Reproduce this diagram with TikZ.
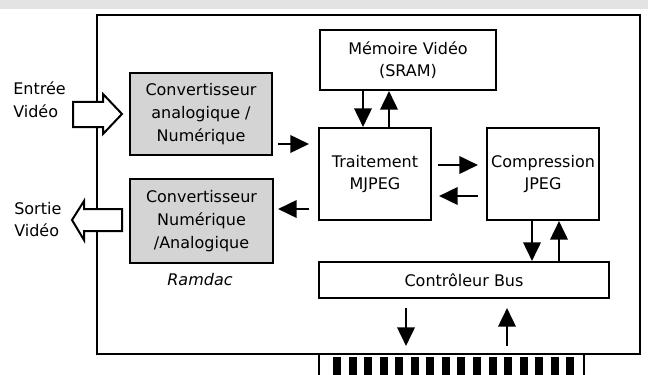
\documentclass[tikz,border=0pt]{standalone}
\usepackage{fontspec}
\setmainfont{DejaVu Sans}
\usetikzlibrary{arrows.meta,calc}
\begin{document}
\begin{tikzpicture}[x=0.75pt,y=-0.75pt,
  box/.style={draw,line width=1.5pt,align=center,inner sep=0pt,
    font=\fontsize{12}{17}\selectfont},
  conv/.style={box,fill=black!17},
  flow/.style={line width=2pt,-{Triangle[length=14pt,width=13pt]}},
  hollow/.style={draw,line width=1.5pt,fill=white,line join=miter},
  lbl/.style={font=\fontsize{12}{17}\selectfont,align=left,inner sep=0pt}]
\useasboundingbox (0,0) rectangle (648,374);

% strip at the top
\fill[black!11] (0,0) rectangle (648,9);

% board outline
\draw[line width=1.5pt] (97,15) rectangle (640,354);

% edge connector
\draw[line width=1.2pt] (319,354) -- (319,376) (584,354) -- (584,376);
\foreach \i in {0,...,15}
  \fill ({333+15.55*\i},357) rectangle ({341+15.55*\i},376);

% functional blocks
\node[conv, minimum width=106.5pt, minimum height=61.5pt] (an) at (201,114)
  {Convertisseur\\analogique /\\Numérique};
\node[conv, minimum width=107.25pt, minimum height=63pt] (na) at (201.5,221)
  {Convertisseur\\Numérique\\/Analogique};
\node[box, minimum width=132pt, minimum height=45pt] (mem) at (408,60)
  {Mémoire Vidéo\\(SRAM)};
\node[box, minimum width=84pt, minimum height=69pt] (trt) at (375,174)
  {Traitement\\MJPEG};
\node[box, minimum width=84pt, minimum height=69pt] (cmp) at (543,174)
  {Compression\\JPEG};
\node[box, minimum width=217.5pt, minimum height=27pt] (bus) at (464,280)
  {Contrôleur Bus};

% external labels
\node[lbl, anchor=west] (in) at (13,100) {Entrée\\Vidéo};
\node[lbl, anchor=west] (out) at (14,219.5) {Sortie\\Vidéo};
\node[lbl, font=\fontsize{12}{17}\selectfont\itshape] (ramdac) at (200,280) {Ramdac};

% video in / out (hollow arrows crossing the board edge)
\draw[hollow] (73,102) -- (103,102) -- (103,94) -- (122,114) -- (103,134)
  -- (103,127) -- (73,127) -- cycle;
\draw[hollow] (122,209) -- (84,209) -- (84,201) -- (72,220) -- (84,240)
  -- (84,231) -- (122,231) -- cycle;

% data paths
\draw[flow] ($(an.east)+(5,30)$) -- ($(trt.west)+(-9,-30)$);
\draw[flow] ($(trt.west)+(-9,35)$) -- ($(na.east)+(4,-12)$);
\draw[flow] ($(mem.south)+(-45,0)$) -- ($(trt.north)+(-12,0)$);
\draw[flow] ($(trt.north)+(14,0)$) -- ($(mem.south)+(-19,0)$);
\draw[flow] ($(trt.east)+(6,-9)$) -- ($(cmp.west)+(-8,-9)$);
\draw[flow] ($(cmp.west)+(-8,22)$) -- ($(trt.east)+(7,22)$);
\draw[flow] ($(cmp.south)+(-11,0)$) -- ($(bus.north)+(68,0)$);
\draw[flow] ($(bus.north)+(95,0)$) -- ($(cmp.south)+(16,0)$);

% bus to edge connector
\coordinate (d1) at ($(bus.south)+(-58,9)$);
\coordinate (d2) at ($(bus.south)+(-58,47)$);
\coordinate (u1) at ($(bus.south)+(43,47)$);
\coordinate (u2) at ($(bus.south)+(43,9)$);
\draw[flow] (d1) -- (d2);
\draw[flow] (u1) -- (u2);
\end{tikzpicture}
\end{document}
